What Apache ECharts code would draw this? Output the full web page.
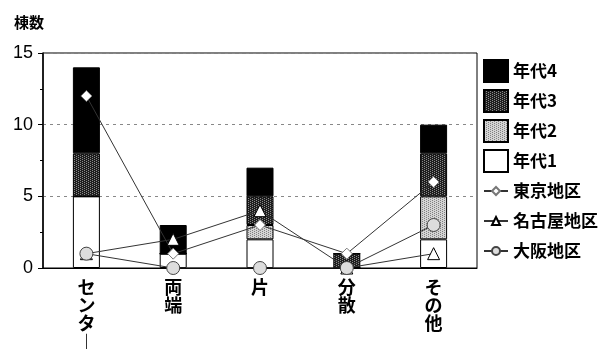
<!DOCTYPE html>
<html>
<head>
<meta charset="utf-8">
<script src="https://cdn.jsdelivr.net/npm/echarts@6/dist/echarts.min.js"></script>
<style>
  html, body { margin: 0; padding: 0; background: #fff; }
  #chart { width: 601px; height: 352px; }
</style>
</head>
<body>
<div id="chart"></div>
<script>
// Building layouts and count of buildings per era and region
const categories = ['センター', '両端', '片', '分散', 'その他'];
const era1 = [5, 1, 2, 0, 2];
const era2 = [0, 0, 1, 0, 3];
const era3 = [3, 0, 2, 1, 3];
const era4 = [6, 2, 2, 0, 2];
const tokyo = [12, 1, 3, 1, 6];
const nagoya = [1, 2, 4, 0, 1];
const osaka = [1, 0, 0, 0, 3];
const yTicks = [0, 5, 10, 15];

// Small halftone tiles used as bar fills
function makeTile(base, dot, dots) {
  const c = document.createElement('canvas');
  c.width = 4; c.height = 4;
  const g = c.getContext('2d');
  g.fillStyle = base; g.fillRect(0, 0, 4, 4);
  g.fillStyle = dot;
  dots.forEach(p => g.fillRect(p[0], p[1], 1, 1));
  return { image: c, repeat: 'repeat' };
}
const darkFill = makeTile('#1e1e1e', '#8a8a8a', [[0, 0], [2, 1], [0, 2], [2, 3]]);
const lightFill = makeTile('#d4d4d4', '#808080', [[0, 0], [2, 1], [0, 2], [2, 3]]);

const jp = '"Noto Sans CJK JP", sans-serif';
const legendText = { fontFamily: jp, fontSize: 17, fontWeight: 'bold', color: '#000', lineHeight: 22 };
const chart = echarts.init(document.getElementById('chart'), null, { renderer: 'canvas' });

function barSeries(name, data, fill) {
  return {
    name: name, type: 'bar', stack: 'era', data: data, barWidth: 27,
    itemStyle: { color: fill, borderColor: '#000', borderWidth: 1 },
    emphasis: { disabled: true }
  };
}
function lineSeries(name, data, symbol, size, fill, stroke) {
  return {
    name: name, type: 'line', data: data, symbol: symbol, symbolSize: size,
    lineStyle: { color: '#333', width: 1 },
    itemStyle: { color: fill, borderColor: stroke, borderWidth: 1 },
    emphasis: { disabled: true }, z: 5
  };
}

chart.setOption({
  animation: false,
  backgroundColor: '#fff',
  title: {
    text: '棟数', left: 9, top: 10,
    textStyle: { fontFamily: jp, fontSize: 15, fontWeight: 'bold', color: '#000' }
  },
  grid: {
    left: 43, right: 124, top: 53, bottom: 84,
    show: true, borderColor: '#000', borderWidth: 1, backgroundColor: 'transparent'
  },
  legend: [
    {
      orient: 'vertical', left: 483, top: 59, padding: 0,
      itemWidth: 24, itemHeight: 22, itemGap: 6, icon: 'rect',
      data: ['年代4', '年代3', '年代2', '年代1'],
      textStyle: legendText, selectedMode: false
    },
    {
      orient: 'vertical', left: 483, top: 180, padding: 0,
      itemWidth: 24, itemHeight: 10, itemGap: 8,
      data: ['東京地区', '名古屋地区', '大阪地区'],
      textStyle: legendText, selectedMode: false
    }
  ],
  xAxis: {
    type: 'category', data: categories,
    axisLine: { lineStyle: { color: '#000', width: 1 } },
    axisTick: { show: false },
    axisLabel: {
      margin: 10, interval: 0, color: '#000',
      fontFamily: jp, fontSize: 18, fontWeight: 'bold', lineHeight: 18,
      verticalAlign: 'top',
      formatter: v => v.split('').map(ch => ch === 'ー' ? '︱' : ch).join('\n')
    }
  },
  yAxis: {
    type: 'value', min: yTicks[0], max: yTicks[yTicks.length - 1], interval: 5,
    axisLine: { show: true, lineStyle: { color: '#000', width: 1.5 } },
    axisTick: { show: true, length: 5, lineStyle: { color: '#000' } },
    minorTick: { show: true, splitNumber: 2, length: 3, lineStyle: { color: '#000' } },
    splitLine: { show: true, lineStyle: { color: '#888', type: [3, 4], width: 1 } },
    axisLabel: {
      color: '#000', fontFamily: '"Liberation Sans", Arial, sans-serif', fontSize: 18, margin: 10
    }
  },
  series: [
    barSeries('年代1', era1, '#fff'),
    barSeries('年代2', era2, lightFill),
    barSeries('年代3', era3, darkFill),
    barSeries('年代4', era4, '#000'),
    lineSeries('東京地区', tokyo, 'diamond', 11, '#fff', '#777'),
    lineSeries('名古屋地区', nagoya, 'triangle', 12, '#fff', '#000'),
    lineSeries('大阪地区', osaka, 'circle', 13, '#ddd', '#444')
  ]
});
</script>
</body>
</html>
